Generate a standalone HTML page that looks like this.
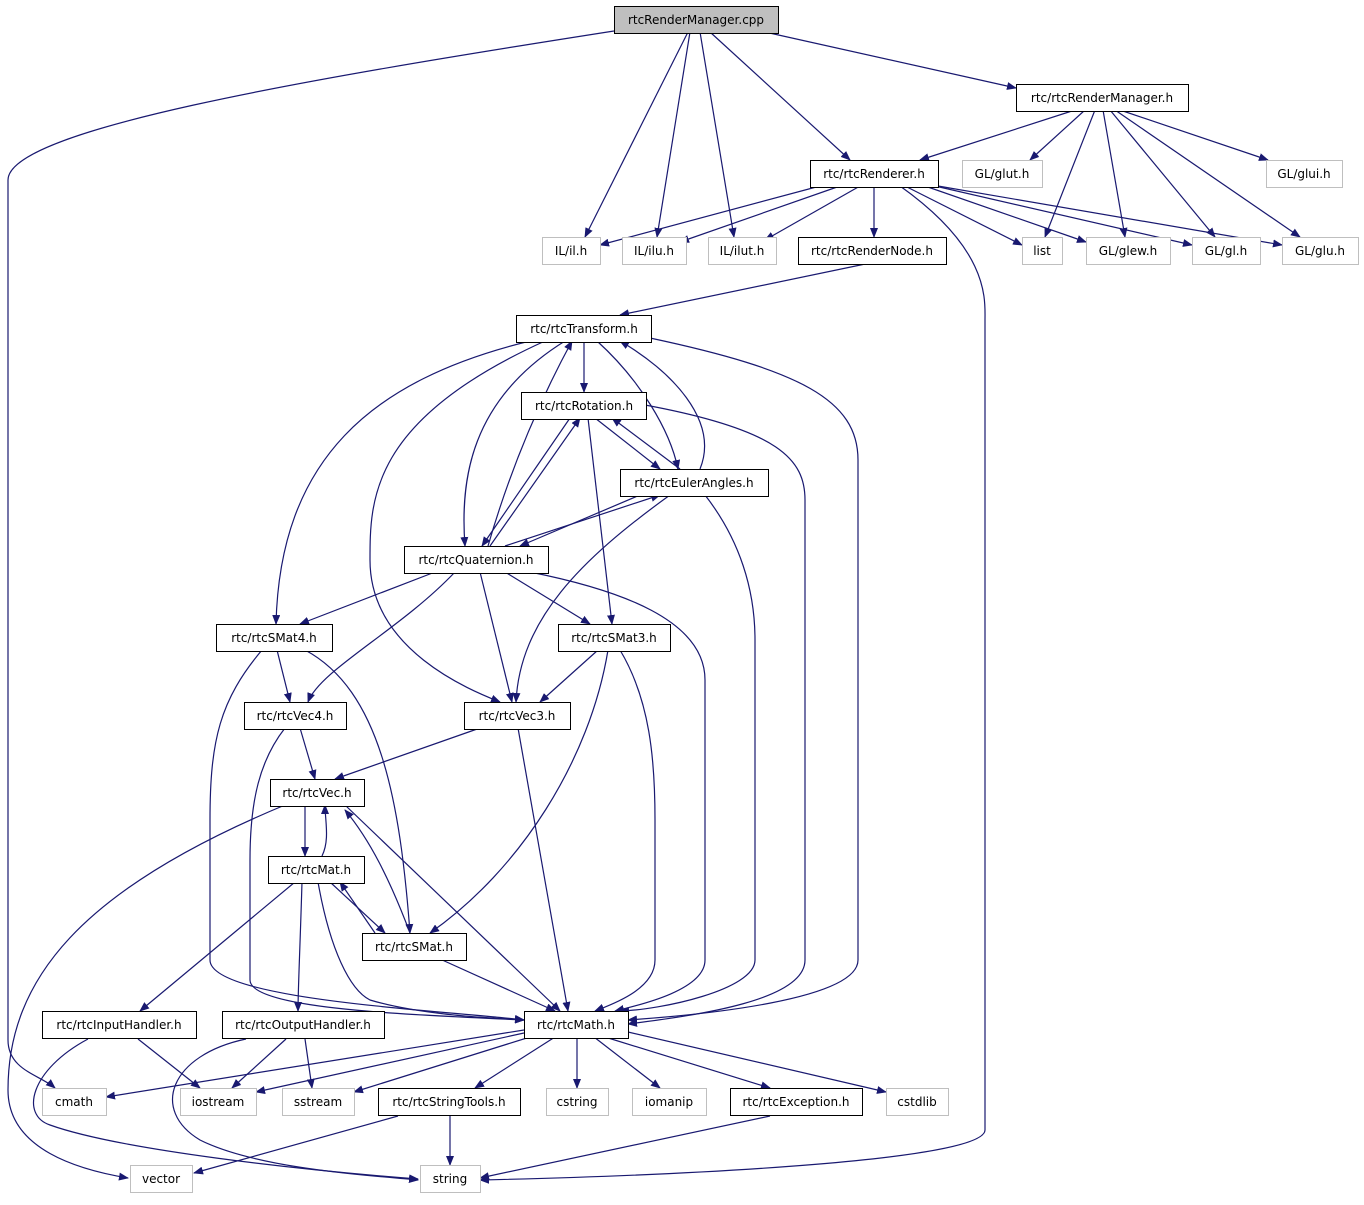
<!DOCTYPE html>
<html><head><meta charset="utf-8"><style>
html,body{margin:0;padding:0;background:#fff;}
svg text{font-family:"DejaVu Sans","Liberation Sans",sans-serif;font-size:12px;fill:#000;}
</style></head><body>
<svg width="1364" height="1200" viewBox="0 0 1364 1200" xmlns="http://www.w3.org/2000/svg">
<defs><marker id="a" markerWidth="10" markerHeight="8" refX="9" refY="4" orient="auto" markerUnits="userSpaceOnUse"><path d="M0,0 L10,4 L0,8 z" fill="#191970"/></marker></defs>
<g fill="none" stroke="#191970" stroke-width="1.2" marker-end="url(#a)">
<path d="M614,31 C300,80 8,130 8,180 L8,1040 C8,1070 40,1075 55,1088"/>
<path d="M688,32 L585,237"/>
<path d="M690,32 L657,237"/>
<path d="M700,32 L734,237"/>
<path d="M710,32 L850,160"/>
<path d="M765,32 L1016,88"/>
<path d="M1075,110 L920,160"/>
<path d="M1085,110 L1030,160"/>
<path d="M1120,110 L1268,160"/>
<path d="M1095,110 L1045,237"/>
<path d="M1103,110 L1125,237"/>
<path d="M1110,110 L1215,237"/>
<path d="M1115,110 L1300,237"/>
<path d="M820,186 L600,245"/>
<path d="M840,186 L680,242"/>
<path d="M860,186 L765,240"/>
<path d="M874,186 L874,237"/>
<path d="M905,186 L1022,245"/>
<path d="M925,186 L1086,242"/>
<path d="M935,186 L1192,245"/>
<path d="M938,186 L1282,245"/>
<path d="M900,186 C990,250 985,300 985,320 L985,1130 C985,1160 700,1175 480,1180"/>
<path d="M870,263 L620,315"/>
<path d="M530,341 C370,380 280,460 276,624"/>
<path d="M545,341 C370,420 370,500 370,560 C370,650 470,690 500,702"/>
<path d="M584,341 L584,392"/>
<path d="M565,341 C470,400 460,480 465,546"/>
<path d="M488,546 C510,470 540,400 572,341"/>
<path d="M597,341 C640,380 670,430 678,469"/>
<path d="M700,469 C720,420 670,370 620,341"/>
<path d="M650,338 C800,370 858,400 858,460 L858,960 C858,1000 700,1015 628,1020"/>
<path d="M595,418 L660,469"/>
<path d="M680,469 L612,418"/>
<path d="M570,418 L482,546"/>
<path d="M490,546 L580,418"/>
<path d="M588,418 L612,624"/>
<path d="M645,405 C780,430 805,460 805,500 L805,960 C805,1000 700,1015 628,1024"/>
<path d="M640,495 L520,546"/>
<path d="M505,546 L660,495"/>
<path d="M670,495 C580,560 520,620 516,702"/>
<path d="M705,495 C740,540 755,590 755,640 L755,960 C755,990 660,1010 620,1011"/>
<path d="M435,572 L300,624"/>
<path d="M505,572 L590,624"/>
<path d="M455,572 C400,630 320,670 308,702"/>
<path d="M480,572 L512,702"/>
<path d="M530,572 C620,590 705,620 705,680 L705,960 C705,990 640,1005 615,1011"/>
<path d="M277,650 L290,702"/>
<path d="M305,650 C380,690 400,800 410,933"/>
<path d="M262,650 C220,700 210,740 210,820 L210,960 C210,1000 440,1010 524,1020"/>
<path d="M598,650 L540,702"/>
<path d="M608,650 C590,760 520,870 430,933"/>
<path d="M620,650 C650,700 655,760 655,820 L655,960 C655,990 610,1005 595,1011"/>
<path d="M300,728 L315,779"/>
<path d="M285,728 C260,760 250,800 250,860 L250,980 C250,1010 420,1015 524,1020"/>
<path d="M480,728 L335,779"/>
<path d="M518,728 L568,1011"/>
<path d="M305,805 L305,856"/>
<path d="M322,856 C330,840 325,820 325,805"/>
<path d="M285,805 C80,890 8,980 8,1090 C8,1150 80,1170 128,1178"/>
<path d="M345,805 L560,1011"/>
<path d="M410,933 C390,880 370,840 345,810"/>
<path d="M330,882 L385,933"/>
<path d="M375,933 L340,882"/>
<path d="M295,882 L140,1011"/>
<path d="M302,882 C300,950 298,990 298,1011"/>
<path d="M318,882 C330,950 350,990 370,1000 C420,1015 490,1018 524,1020"/>
<path d="M440,959 L555,1011"/>
<path d="M138,1039 L200,1088"/>
<path d="M88,1039 C30,1070 20,1115 50,1125 C120,1150 300,1170 418,1179"/>
<path d="M286,1039 L232,1088"/>
<path d="M305,1039 L312,1088"/>
<path d="M246,1039 C170,1055 150,1110 200,1140 C260,1170 380,1176 418,1180"/>
<path d="M524,1030 L106,1097"/>
<path d="M524,1033 L256,1092"/>
<path d="M530,1037 L354,1092"/>
<path d="M555,1037 L475,1088"/>
<path d="M577,1037 L577,1088"/>
<path d="M594,1037 L660,1088"/>
<path d="M605,1037 L770,1088"/>
<path d="M628,1032 L886,1092"/>
<path d="M398,1116 L194,1173"/>
<path d="M450,1116 L450,1165"/>
<path d="M770,1116 L480,1178"/>
</g>
<g stroke-width="1">
<rect x="614.5" y="6.5" width="164" height="27" fill="#bfbfbf" stroke="#000"/>
<g fill="#fff" stroke="#000">
<rect x="1016.5" y="84.5" width="172" height="27"/>
<rect x="810.5" y="160.5" width="128" height="27"/>
<rect x="798.5" y="237.5" width="148" height="27"/>
<rect x="516.5" y="315.5" width="135" height="27"/>
<rect x="521.5" y="392.5" width="125" height="27"/>
<rect x="620.5" y="469.5" width="148" height="27"/>
<rect x="404.5" y="546.5" width="144" height="27"/>
<rect x="216.5" y="624.5" width="116" height="27"/>
<rect x="558.5" y="624.5" width="112" height="27"/>
<rect x="244.5" y="702.5" width="102" height="27"/>
<rect x="464.5" y="702.5" width="106" height="27"/>
<rect x="270.5" y="779.5" width="94" height="27"/>
<rect x="268.5" y="856.5" width="96" height="27"/>
<rect x="362.5" y="933.5" width="104" height="27"/>
<rect x="42.5" y="1011.5" width="154" height="27"/>
<rect x="222.5" y="1011.5" width="162" height="27"/>
<rect x="524.5" y="1011.5" width="104" height="27"/>
<rect x="378.5" y="1088.5" width="142" height="27"/>
<rect x="730.5" y="1088.5" width="132" height="27"/>
</g>
<g fill="#fff" stroke="#bfbfbf">
<rect x="962.5" y="160.5" width="80" height="27"/>
<rect x="1266.5" y="160.5" width="76" height="27"/>
<rect x="542.5" y="237.5" width="58" height="27"/>
<rect x="622.5" y="237.5" width="64" height="27"/>
<rect x="708.5" y="237.5" width="68" height="27"/>
<rect x="1022.5" y="237.5" width="40" height="27"/>
<rect x="1086.5" y="237.5" width="84" height="27"/>
<rect x="1192.5" y="237.5" width="68" height="27"/>
<rect x="1282.5" y="237.5" width="76" height="27"/>
<rect x="42.5" y="1088.5" width="64" height="27"/>
<rect x="180.5" y="1088.5" width="76" height="27"/>
<rect x="282.5" y="1088.5" width="72" height="27"/>
<rect x="546.5" y="1088.5" width="62" height="27"/>
<rect x="632.5" y="1088.5" width="74" height="27"/>
<rect x="886.5" y="1088.5" width="62" height="27"/>
<rect x="130.5" y="1165.5" width="62" height="27"/>
<rect x="420.5" y="1165.5" width="60" height="27"/>
</g>
</g>
<g text-anchor="middle">
<text x="696" y="24">rtcRenderManager.cpp</text>
<text x="1102" y="102">rtc/rtcRenderManager.h</text>
<text x="874" y="178">rtc/rtcRenderer.h</text>
<text x="872" y="255">rtc/rtcRenderNode.h</text>
<text x="584" y="333">rtc/rtcTransform.h</text>
<text x="584" y="410">rtc/rtcRotation.h</text>
<text x="694" y="487">rtc/rtcEulerAngles.h</text>
<text x="476" y="564">rtc/rtcQuaternion.h</text>
<text x="274" y="642">rtc/rtcSMat4.h</text>
<text x="614" y="642">rtc/rtcSMat3.h</text>
<text x="295" y="720">rtc/rtcVec4.h</text>
<text x="517" y="720">rtc/rtcVec3.h</text>
<text x="317" y="797">rtc/rtcVec.h</text>
<text x="316" y="874">rtc/rtcMat.h</text>
<text x="414" y="951">rtc/rtcSMat.h</text>
<text x="119" y="1029">rtc/rtcInputHandler.h</text>
<text x="303" y="1029">rtc/rtcOutputHandler.h</text>
<text x="576" y="1029">rtc/rtcMath.h</text>
<text x="449" y="1106">rtc/rtcStringTools.h</text>
<text x="796" y="1106">rtc/rtcException.h</text>
<text x="1002" y="178">GL/glut.h</text>
<text x="1304" y="178">GL/glui.h</text>
<text x="571" y="255">IL/il.h</text>
<text x="654" y="255">IL/ilu.h</text>
<text x="742" y="255">IL/ilut.h</text>
<text x="1042" y="255">list</text>
<text x="1128" y="255">GL/glew.h</text>
<text x="1226" y="255">GL/gl.h</text>
<text x="1320" y="255">GL/glu.h</text>
<text x="74" y="1106">cmath</text>
<text x="218" y="1106">iostream</text>
<text x="318" y="1106">sstream</text>
<text x="577" y="1106">cstring</text>
<text x="669" y="1106">iomanip</text>
<text x="917" y="1106">cstdlib</text>
<text x="161" y="1183">vector</text>
<text x="450" y="1183">string</text>
</g>
</svg>
</body></html>
